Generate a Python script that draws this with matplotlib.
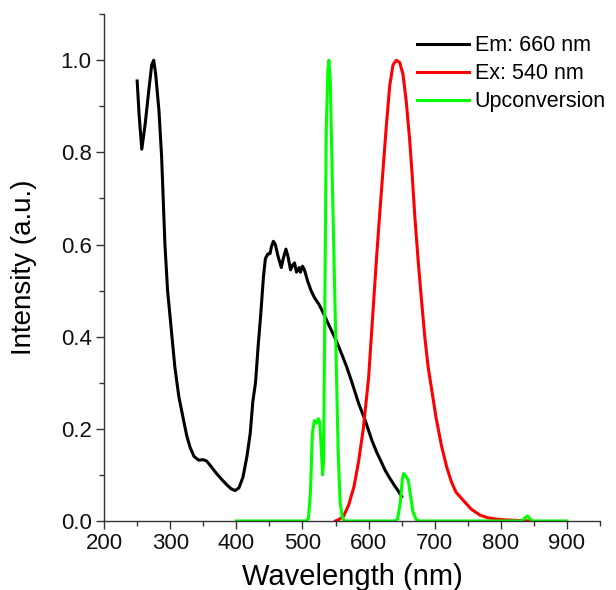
import matplotlib
matplotlib.use('Agg')
import matplotlib.pyplot as plt
from matplotlib.ticker import MultipleLocator

plt.rcParams['font.family'] = ['Liberation Sans', 'DejaVu Sans']

# Em: 660 nm (black)
em_x = [250, 253, 257, 262, 268, 272, 275, 278, 283, 287, 292, 296, 300, 307, 313,
        320, 325, 330, 336, 343, 350, 355, 362, 370, 378, 386, 392, 398, 404, 410,
        416, 421, 425, 429, 433, 437, 441, 444, 448, 451, 453, 456, 459, 463, 468,
        471, 475, 478, 482, 485, 488, 491, 495, 497, 500, 503, 508, 513, 518, 525,
        532, 540, 550, 560, 567, 575, 585, 595, 605, 612, 618, 625, 632, 640, 645, 650]
em_y = [0.955, 0.88, 0.807, 0.86, 0.94, 0.99, 1.0, 0.97, 0.89, 0.79, 0.60, 0.50, 0.44, 0.334, 0.27,
        0.22, 0.185, 0.16, 0.14, 0.132, 0.133, 0.13, 0.118, 0.103, 0.09, 0.078, 0.07, 0.066, 0.072, 0.095,
        0.14, 0.19, 0.26, 0.30, 0.38, 0.45, 0.53, 0.57, 0.58, 0.58, 0.595, 0.607, 0.60, 0.575, 0.55,
        0.57, 0.59, 0.575, 0.545, 0.555, 0.56, 0.54, 0.55, 0.54, 0.553, 0.545, 0.52, 0.50, 0.485, 0.47,
        0.45, 0.425, 0.395, 0.36, 0.334, 0.30, 0.255, 0.218, 0.175, 0.15, 0.132, 0.11, 0.093, 0.075, 0.065, 0.053]

# Ex: 540 nm (red)
ex_x = [550, 555, 562, 570, 578, 585, 592, 600, 606, 612, 617, 622, 627, 632, 637,
        642, 647, 652, 657, 662, 666, 670, 675, 680, 685, 690, 696, 702, 710, 718,
        725, 732, 743, 755, 768, 780, 794, 810, 830, 845]
ex_y = [0.0, 0.003, 0.01, 0.035, 0.075, 0.13, 0.2, 0.31, 0.44, 0.57, 0.67, 0.765, 0.86, 0.945, 0.99,
        1.0, 0.995, 0.97, 0.91, 0.83, 0.75, 0.66, 0.565, 0.48, 0.40, 0.335, 0.28, 0.225, 0.165, 0.118,
        0.086, 0.063, 0.045, 0.026, 0.013, 0.007, 0.004, 0.002, 0.001, 0.0]

# Upconversion (green)
up_x = [400, 505, 509, 512, 515, 518, 521, 524, 526, 528, 530.5, 532, 534, 536, 538.5,
        540, 542, 545, 548, 551, 554, 557, 560, 563, 640, 644, 648, 651, 653, 656,
        660, 663, 667, 672, 676, 832, 836, 840, 844, 848, 900]
up_y = [0.0, 0.0, 0.005, 0.06, 0.19, 0.218, 0.212, 0.222, 0.215, 0.17, 0.10, 0.13, 0.50, 0.85, 0.98,
        1.0, 0.96, 0.75, 0.55, 0.35, 0.15, 0.04, 0.01, 0.0, 0.0, 0.005, 0.04, 0.09, 0.103, 0.098,
        0.089, 0.06, 0.02, 0.003, 0.0, 0.0, 0.006, 0.011, 0.005, 0.0, 0.0]

x_ticks = [200, 300, 400, 500, 600, 700, 800, 900]

fig = plt.figure(figsize=(6.16, 5.9), dpi=100)
ax = fig.add_axes([0.169, 0.117, 0.805, 0.859])

ax.plot(em_x, em_y, color='black', lw=2.2, label='Em: 660 nm')
ax.plot(ex_x, ex_y, color='#ff0000', lw=2.2, label='Ex: 540 nm')
ax.plot(up_x, up_y, color='#00ff00', lw=2.2, label='Upconversion')

ax.set_xlim(200, 950)
ax.set_ylim(0, 1.1)
ax.set_xticks(x_ticks)
ax.xaxis.set_minor_locator(MultipleLocator(50))
ax.yaxis.set_major_locator(MultipleLocator(0.2))
ax.yaxis.set_minor_locator(MultipleLocator(0.1))
ax.yaxis.set_major_formatter(plt.FormatStrFormatter('%.1f'))

for s in ['top', 'right']:
    ax.spines[s].set_visible(False)
for s in ['left', 'bottom']:
    ax.spines[s].set_linewidth(1.0)
    ax.spines[s].set_color('#333333')

ax.tick_params(which='major', direction='out', length=6, width=1, labelsize=16,
               colors='#333333', labelcolor='#111111', pad=3)
ax.tick_params(which='minor', direction='out', length=3.5, width=1, colors='#333333')

ax.set_xlabel('Wavelength (nm)', fontsize=21, labelpad=6)
ax.set_ylabel('Intensity (a.u.)', fontsize=20, labelpad=17)

ax.legend(loc='upper left', bbox_to_anchor=(0.613, 0.975), frameon=False, fontsize=15.5,
          handlelength=2.45, handletextpad=0.25, labelspacing=0.32, borderaxespad=0)

fig.savefig('out.png', dpi=100)
